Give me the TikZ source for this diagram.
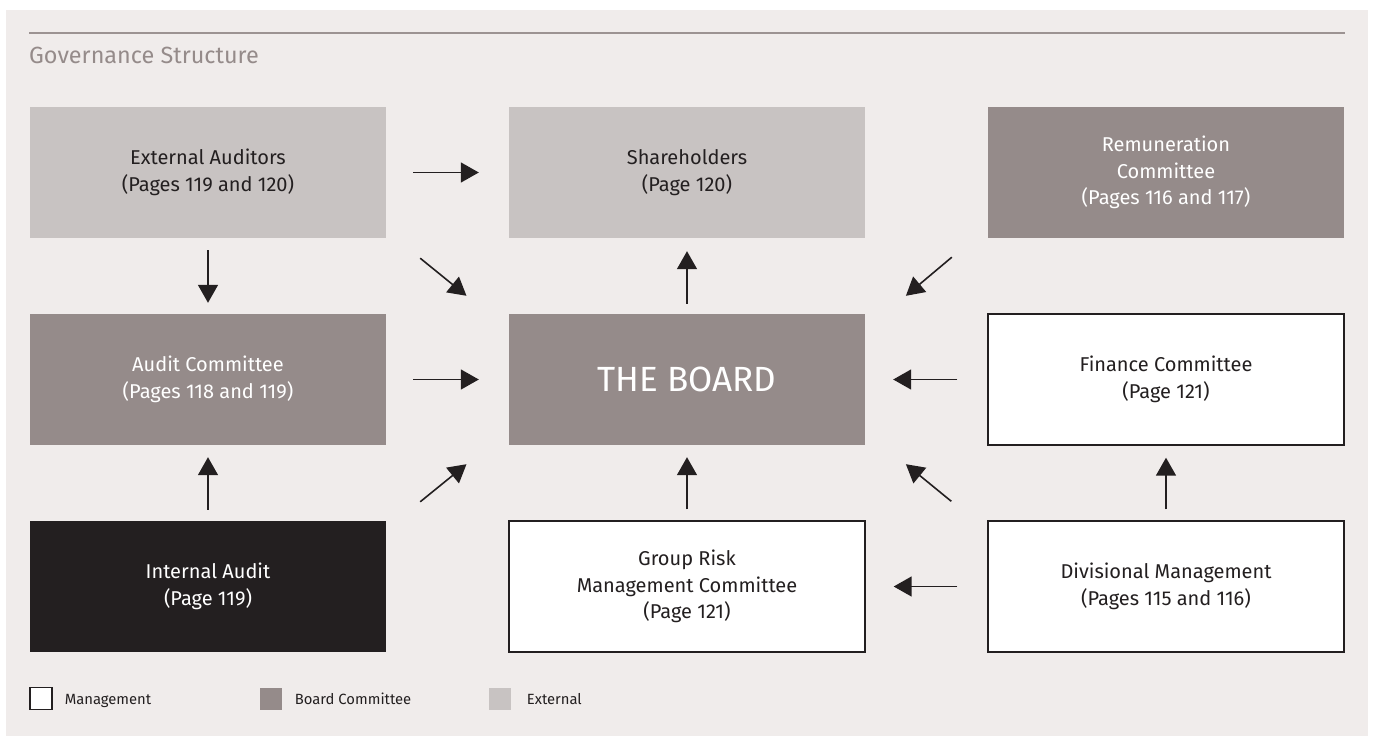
\documentclass[tikz,border=0pt]{standalone}
\usepackage{fontspec}
\setmainfont{Fira Sans}
\usetikzlibrary{arrows.meta,calc}
\definecolor{panel}{HTML}{F0ECEB}
\definecolor{extc}{HTML}{C8C3C2}
\definecolor{boardc}{HTML}{958B8A}
\definecolor{inkc}{HTML}{231F20}
\definecolor{rulec}{HTML}{9C9392}
\begin{document}
\begin{tikzpicture}[x=1pt,y=-1pt,
  box/.style={minimum width=356pt, minimum height=131pt, inner sep=0pt, align=center,
              font=\fontsize{20}{26.5}\selectfont, text=inkc},
  extbox/.style={box, fill=extc},
  cmtbox/.style={box, fill=boardc, text=white},
  mgmtbox/.style={box, fill=white, draw=inkc, line width=1.4pt},
  intbox/.style={box, fill=inkc, text=white},
  arr/.style={-{Triangle[length=18pt,width=20pt]}, line width=1.6pt, draw=inkc},
  lgsq/.style={minimum width=22pt, minimum height=22pt, inner sep=0pt},
  lgtext/.style={anchor=base west, inner sep=0pt, font=\fontsize{14.8}{17}\selectfont, text=inkc}]
\useasboundingbox (0,0) rectangle (1373,736);
\fill[white] (0,0) rectangle (1373,736);
\fill[panel] (6,10) rectangle (1368,736);
\draw[rulec, line width=2pt] (29,32.5) -- (1345,32.5);
\node[anchor=base west, inner sep=0pt, text=boardc, font=\fontsize{23.4}{28}\selectfont] (title) at (29,63) {Governance Structure};

% boxes
\node[extbox] (ext) at (208,172.5) {External Auditors\\(Pages 119 and 120)};
\node[extbox] (sh) at (687,172.5) {Shareholders\\(Page 120)};
\node[cmtbox] (rem) at (1166,172.5) {Remuneration\\Committee\\(Pages 116 and 117)};
\node[cmtbox] (aud) at (208,379.5) {Audit Committee\\(Pages 118 and 119)};
\node[cmtbox, font=\fontsize{35}{40}\selectfont] (board) at (687,379.5) {THE BOARD};
\node[mgmtbox] (fin) at (1166,379.5) {Finance Committee\\(Page 121)};
\node[intbox] (int) at (208,586.5) {Internal Audit\\(Page 119)};
\node[mgmtbox] (grm) at (687,586.5) {Group Risk\\Management Committee\\(Page 121)};
\node[mgmtbox] (div) at (1166,586.5) {Divisional Management\\(Pages 115 and 116)};

% arrows
\draw[arr, shorten <=27pt, shorten >=30pt] (ext.east) -- (sh.west);
\draw[arr, shorten <=12pt, shorten >=11pt] (ext.south) -- (aud.north);
\draw[arr, shorten <=11pt, shorten >=12pt] (int.north) -- (aud.south);
\draw[arr, shorten <=27pt, shorten >=30pt] (aud.east) -- (board.west);
\draw[arr, shorten <=10pt, shorten >=13pt] (board.north) -- (sh.south);
\draw[arr, shorten <=11pt, shorten >=12pt] (grm.north) -- (board.south);
\draw[arr, shorten <=30pt, shorten >=28pt] (fin.west) -- (board.east);
\draw[arr, shorten <=30pt, shorten >=28pt] (div.west) -- (grm.east);
\draw[arr, shorten <=11pt, shorten >=12pt] (div.north) -- (fin.south);
\draw[arr] ($(ext.south east)+(34,20)$) -- ($(board.north west)+(-42.3,-18)$);
\draw[arr] ($(int.north east)+(34,-19)$) -- ($(board.south west)+(-42.3,19)$);
\draw[arr] ($(rem.south west)+(-36,19)$) -- ($(board.north east)+(40.7,-18)$);
\draw[arr] ($(div.north west)+(-36,-19)$) -- ($(board.south east)+(40.7,19)$);

% legend
\node[lgsq, fill=white, draw=inkc, line width=1.2pt] (lm) at (41,698.5) {};
\node[lgtext] (lmt) at ($(lm.east)+(12,6)$) {Management};
\node[lgsq, fill=boardc] (lb) at (270.5,698.5) {};
\node[lgtext] (lbt) at ($(lb.east)+(13,6)$) {Board Committee};
\node[lgsq, fill=extc] (le) at (499.5,698.5) {};
\node[lgtext] (let) at ($(le.east)+(16,6)$) {External};
\end{tikzpicture}
\end{document}
